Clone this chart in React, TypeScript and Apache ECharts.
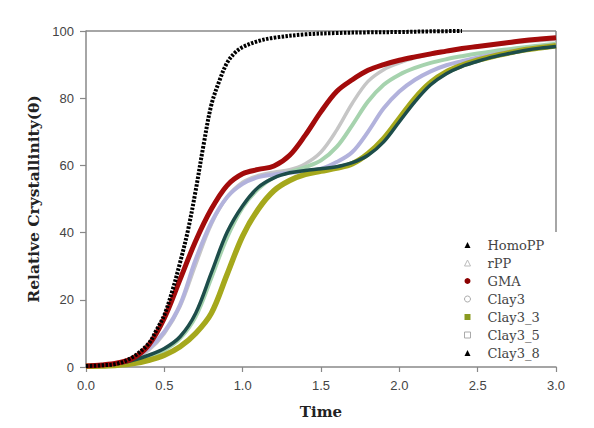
import React, { useEffect, useRef } from "react";
import * as echarts from "echarts";

// Time samples
const tHomo = [0, 0.1, 0.2, 0.3, 0.4, 0.45, 0.5, 0.55, 0.6, 0.65, 0.7, 0.75, 0.8, 0.85, 0.9, 0.95, 1.0, 1.1, 1.2, 1.4, 1.6, 1.8, 2.0, 2.2, 2.4];
const tAll = [0, 0.1, 0.2, 0.3, 0.4, 0.5, 0.6, 0.7, 0.8, 0.9, 1.0, 1.1, 1.2, 1.3, 1.4, 1.5, 1.6, 1.7, 1.8, 1.9, 2.0, 2.1, 2.2, 2.3, 2.4, 2.5, 2.6, 2.7, 2.8, 2.9, 3.0];

// Relative crystallinity values
const homoPP = [0.3, 0.5, 1, 3, 7, 11, 15.5, 22.5, 31, 40.5, 52.5, 66, 78, 85, 90.5, 93.5, 95.2, 97, 98, 99, 99.4, 99.6, 99.7, 99.9, 100];
const rPP = [0.3, 0.5, 1, 2.3, 5, 10, 18, 30.5, 42.5, 50.5, 55, 57, 58, 58.7, 60.5, 64, 70.5, 78.5, 85, 88.5, 90.5, 92, 93, 94, 94.8, 95.4, 96, 96.4, 96.8, 97.2, 97.5];
const gma = [0.3, 0.6, 1.2, 2.6, 6.5, 14.5, 26, 37.5, 47, 54, 57.5, 58.8, 59.8, 63, 69, 76, 82, 85.5, 88.3, 90, 91.3, 92.3, 93.2, 94, 94.8, 95.4, 96, 96.6, 97.2, 97.6, 98];
const clay3 = [0.3, 0.5, 0.9, 1.6, 3, 5, 8.5, 15, 26.5, 38.5, 47.5, 53, 56.5, 58, 59.5, 61.5, 65.5, 72, 79, 84, 87, 89, 90.5, 91.6, 92.5, 93.3, 94, 94.6, 95.2, 95.7, 96.2];
const clay3_3 = [0.2, 0.3, 0.5, 1, 2, 3.5, 6, 10, 16, 27.5, 39, 47, 52.5, 55.5, 57.3, 58.3, 59.2, 60.5, 63.5, 68, 74, 80, 84.7, 87.8, 89.8, 91.3, 92.5, 93.5, 94.4, 95, 95.6];
const clay3_5 = [0.3, 0.5, 1, 2.5, 5.5, 10.5, 18.5, 32, 43, 50.5, 54.5, 56.5, 57.3, 57.8, 58.3, 59, 61, 64, 70, 77, 82, 85.5, 88, 89.8, 91, 92.1, 93, 93.8, 94.6, 95.2, 95.8];
const clay3_8 = [0.3, 0.5, 1, 2, 3.5, 5.5, 9, 16, 28, 40, 48, 53.5, 56.3, 57.8, 58.5, 59, 59.6, 60.8, 63, 67, 73, 79, 84, 87.3, 89.5, 91, 92.3, 93.3, 94.2, 94.9, 95.4];

const xTicks = [0, 0.5, 1.0, 1.5, 2.0, 2.5, 3.0];

const pairs = (t: number[], v: number[]) => t.map((x, i) => [x, v[i]]);

export default function App() {
  const ref = useRef<HTMLDivElement>(null);
  useEffect(() => {
    if (!ref.current) return;
    const chart = echarts.init(ref.current, null, { renderer: "svg" });
    const serif = "'DejaVu Serif', serif";
    const mk = (name: string, t: number[], v: number[], color: string, width: number, z: number, type: any = "solid") => ({
      name,
      type: "line",
      data: pairs(t, v),
      smooth: 0.35,
      showSymbol: false,
      symbol: "none",
      z,
      lineStyle: { color, width, type, cap: "butt" },
      itemStyle: { color },
    });
    chart.setOption({
      animation: false,
      backgroundColor: "#ffffff",
      grid: { left: 86, right: 38, top: 31, bottom: 61 },
      xAxis: {
        type: "value",
        min: 0,
        max: 3,
        interval: 0.5,
        name: "Time",
        nameLocation: "middle",
        nameGap: 37,
        nameTextStyle: { fontFamily: serif, fontWeight: "bold", fontSize: 15, color: "#222" },
        axisLine: { lineStyle: { color: "#888", width: 1.5 } },
        axisTick: { show: true, length: 5, lineStyle: { color: "#888", width: 1.2 } },
        axisLabel: {
          margin: 12,
          fontFamily: "'Liberation Sans', Arial, sans-serif",
          fontSize: 13,
          color: "#444",
          formatter: (v: number) => (xTicks.includes(v) ? v.toFixed(1) : ""),
        },
        splitLine: { show: false },
      },
      yAxis: {
        type: "value",
        min: 0,
        max: 100,
        interval: 20,
        name: "Relative Crystallinity(θ)",
        nameLocation: "middle",
        nameGap: 44,
        nameTextStyle: { fontFamily: serif, fontWeight: "bold", fontSize: 15.5, color: "#222" },
        axisLine: { show: true, lineStyle: { color: "#888", width: 1.5 } },
        axisTick: { show: true, length: 6, lineStyle: { color: "#888", width: 1.2 } },
        axisLabel: { margin: 12, fontFamily: "'Liberation Sans', Arial, sans-serif", fontSize: 13, color: "#444" },
        splitLine: { show: false },
      },
      legend: {
        orient: "vertical",
        left: 459,
        top: 231,
        itemWidth: 6,
        itemHeight: 6,
        itemGap: 0,
        textStyle: { fontFamily: serif, fontSize: 13, color: "#444", lineHeight: 18, padding: [0, 0, 0, 12] },
        data: [
          { name: "HomoPP", icon: "triangle", itemStyle: { color: "#000" } },
          { name: "rPP", icon: "triangle", itemStyle: { color: "#fff", borderColor: "#bbb", borderWidth: 1 } },
          { name: "GMA", icon: "circle", itemStyle: { color: "#8b0000" } },
          { name: "Clay3", icon: "circle", itemStyle: { color: "#fff", borderColor: "#aaa", borderWidth: 1 } },
          { name: "Clay3_3", icon: "rect", itemStyle: { color: "#8a9a20" } },
          { name: "Clay3_5", icon: "rect", itemStyle: { color: "#fff", borderColor: "#aaa", borderWidth: 1 } },
          { name: "Clay3_8", icon: "triangle", itemStyle: { color: "#000" } },
        ],
      },
      graphic: [
        { type: "line", shape: { x1: 86, y1: 31, x2: 556, y2: 31 }, style: { stroke: "#888", lineWidth: 1.5 } },
        { type: "line", shape: { x1: 556, y1: 31, x2: 556, y2: 232 }, style: { stroke: "#888", lineWidth: 1.5 } },
      ],
      series: [
        mk("rPP", tAll, rPP, "#c6c6c6", 3.5, 2),
        mk("Clay3", tAll, clay3, "#a6d3ae", 4, 3),
        mk("Clay3_5", tAll, clay3_5, "#b2b2dc", 4, 4),
        mk("Clay3_3", tAll, clay3_3, "#a5a81c", 5.5, 5),
        mk("Clay3_8", tAll, clay3_8, "#1d4d4a", 3.5, 6),
        mk("GMA", tAll, gma, "#a30b0b", 5, 7),
        mk("HomoPP", tHomo, homoPP, "#000000", 4, 8, [2.5, 1.4]),
      ],
    });
    return () => chart.dispose();
  }, []);
  return <div ref={ref} style={{ position: "fixed", left: 0, top: 0, width: 594, height: 428 }} />;
}
